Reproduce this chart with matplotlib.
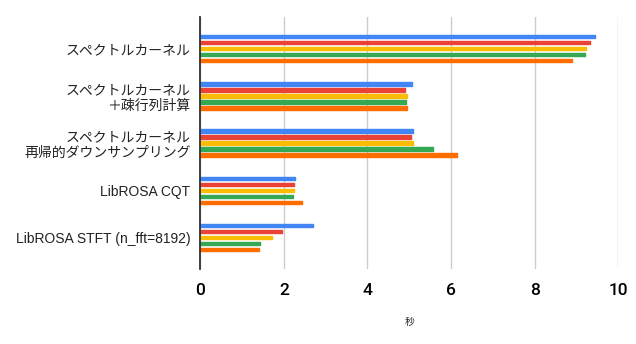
import matplotlib
matplotlib.use("Agg")
import matplotlib.pyplot as plt
import numpy as np

plt.rcParams['font.family'] = ['Roboto', 'Noto Sans CJK JP', 'DejaVu Sans']

categories = [
    "スペクトルカーネル",
    "スペクトルカーネル\n＋疎行列計算",
    "スペクトルカーネル\n再帰的ダウンサンプリング",
    "LibROSA CQT",
    "LibROSA STFT (n_fft=8192)",
]

# Five timing runs per method (seconds)
run1 = [9.45, 5.06, 5.08, 2.26, 2.69]
run2 = [9.33, 4.90, 5.03, 2.24, 1.95]
run3 = [9.22, 4.94, 5.10, 2.24, 1.71]
run4 = [9.21, 4.92, 5.57, 2.21, 1.43]
run5 = [8.90, 4.94, 6.15, 2.43, 1.40]

series = [run1, run2, run3, run4, run5]
colors = ["#4285F4", "#EA4335", "#FBBC04", "#34A853", "#FF6D01"]

xticks = [0, 2, 4, 6, 8, 10]
xlabel = "秒"

fig = plt.figure(figsize=(6.36, 3.44), dpi=100)
ax = fig.add_axes([0.315, 0.218, 0.657, 0.733])

y = np.arange(len(categories))
step = 0.127
bar_h = 0.075
for k, (vals, c) in enumerate(zip(series, colors)):
    offs = (k - 2) * step
    ax.barh(y + offs, vals, height=bar_h, color=c, edgecolor=c,
            linewidth=1.0, joinstyle='round', zorder=3)

ax.set_xlim(0, 10)
ax.set_ylim(4.667, -0.672)
ax.set_yticks(y)
ax.set_yticklabels(categories, fontsize=10, color="#222222",
                   family=['Liberation Sans', 'Noto Sans CJK JP', 'DejaVu Sans'],
                   linespacing=1.1)
ax.set_xticks(xticks)
ax.set_xticklabels([str(t) for t in xticks], fontsize=12.5,
                   fontweight='medium', color="#000000")
ax.tick_params(axis='both', length=0)
ax.tick_params(axis='x', pad=10)
ax.tick_params(axis='y', pad=7)

ax.grid(axis='x', color="#cccccc", linewidth=1.0, zorder=0)
ax.set_axisbelow(True)
for s in ['top', 'right', 'bottom']:
    ax.spines[s].set_visible(False)
ax.spines['left'].set_color("#333333")
ax.spines['left'].set_linewidth(1.3)
ax.spines['left'].set_zorder(4)

ax.set_xlabel(xlabel, fontsize=7, color="#222222", labelpad=14,
              family=['Noto Sans CJK JP', 'DejaVu Sans'])

fig.savefig("out.png", dpi=100, facecolor="white")
